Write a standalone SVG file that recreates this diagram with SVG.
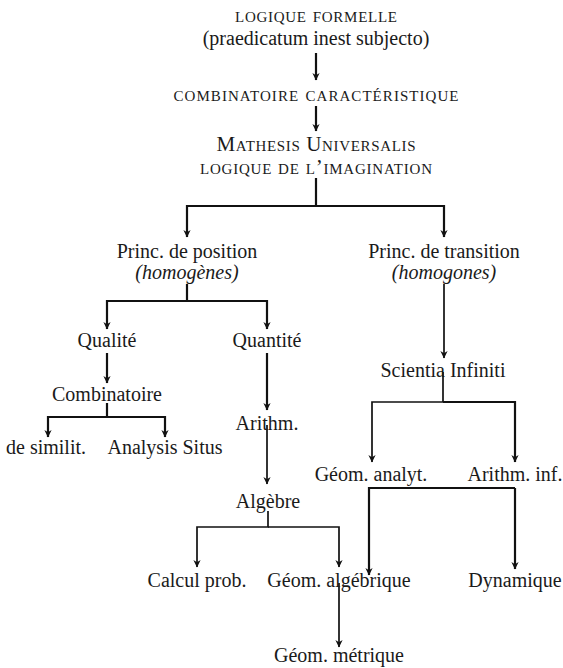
<svg xmlns="http://www.w3.org/2000/svg" width="563" height="668" viewBox="0 0 563 668">
<style>
text{font-family:"Liberation Serif","Times New Roman",serif;font-size:20px;fill:#1a1a1a;text-anchor:middle}
.sc{font-variant:small-caps;font-size:21px}
.it{font-style:italic}
.c{fill:none;stroke:#111;stroke-width:1.7}
.t{stroke-width:2.2}
</style>
<defs>
<marker id="ah" viewBox="-9 -5 10 10" refX="0" refY="0" markerWidth="10" markerHeight="10" markerUnits="userSpaceOnUse" orient="auto">
<path d="M0.5,0 L-7,-3.6 L-4.8,0 L-7,3.6 Z" fill="#111"/>
</marker>
</defs>
<rect width="563" height="668" fill="#fff"/>
<g id="connectors">
<path class="c t" d="M316,53 V80" marker-end="url(#ah)"/>
<path class="c t" d="M316,106 V131" marker-end="url(#ah)"/>
<path class="c t" d="M316,178 V206 H187 V237" marker-end="url(#ah)"/>
<path class="c t" d="M316,206 H444 V237" marker-end="url(#ah)"/>
<path class="c t" d="M187,284 V301 H107 V329" marker-end="url(#ah)"/>
<path class="c t" d="M187,301 H267 V329" marker-end="url(#ah)"/>
<path class="c t" d="M107,353 V383" marker-end="url(#ah)"/>
<path class="c t" d="M107,403 V417 H48 V437" marker-end="url(#ah)"/>
<path class="c t" d="M107,417 H165 V437" marker-end="url(#ah)"/>
<path class="c t" d="M267,353 V410" marker-end="url(#ah)"/>
<path class="c" d="M267,425 V484" marker-end="url(#ah)"/>
<path class="c" d="M268,511 V527 H197 V567" marker-end="url(#ah)"/>
<path class="c" d="M268,527 H339 V567" marker-end="url(#ah)"/>
<path class="c" d="M339,583 V647" marker-end="url(#ah)"/>
<path class="c" d="M444,284 V358" marker-end="url(#ah)"/>
<path class="c" d="M443,372 V402 H372 V462" marker-end="url(#ah)"/>
<path class="c t" d="M443,402 H515 V462" marker-end="url(#ah)"/>
<path class="c t" d="M515,488 V569" marker-end="url(#ah)"/>
<path class="c t" d="M515,488 H369 V575" marker-end="url(#ah)"/>
</g>
<g id="n-logique-formelle">
<text class="sc" x="316" y="22" textLength="162" lengthAdjust="spacing">logique formelle</text>
<text x="316" y="45">(praedicatum inest subjecto)</text>
</g>
<g id="n-combinatoire-caracteristique">
<text class="sc" x="316" y="101" textLength="285" lengthAdjust="spacing">combinatoire caractéristique</text>
</g>
<g id="n-mathesis">
<text class="sc" x="316" y="151" textLength="199" lengthAdjust="spacing">Mathesis Universalis</text>
<text class="sc" x="316" y="174" textLength="232" lengthAdjust="spacing">logique de l’imagination</text>
</g>
<g id="n-position">
<text x="187" y="258">Princ. de position</text>
<text class="it" x="187" y="279">(homogènes)</text>
</g>
<g id="n-transition">
<text x="444" y="258">Princ. de transition</text>
<text class="it" x="444" y="279">(homogones)</text>
</g>
<g id="n-qualite"><text x="107" y="347">Qualité</text></g>
<g id="n-quantite"><text x="267" y="347">Quantité</text></g>
<g id="n-combinatoire"><text x="107" y="401">Combinatoire</text></g>
<g id="n-similit"><text x="46" y="454">de similit.</text></g>
<g id="n-analysis-situs"><text x="165" y="454">Analysis Situs</text></g>
<g id="n-arithm"><text x="267" y="430">Arithm.</text></g>
<g id="n-algebre"><text x="268" y="508">Algèbre</text></g>
<g id="n-calcul-prob"><text x="197" y="587">Calcul prob.</text></g>
<g id="n-geom-algebrique"><text x="339" y="587">Géom. algébrique</text></g>
<g id="n-geom-metrique"><text x="339" y="662">Géom. métrique</text></g>
<g id="n-scientia-infiniti"><text x="443" y="377">Scientia Infiniti</text></g>
<g id="n-geom-analyt"><text x="371" y="481">Géom. analyt.</text></g>
<g id="n-arithm-inf"><text x="515" y="481">Arithm. inf.</text></g>
<g id="n-dynamique"><text x="515" y="587">Dynamique</text></g>
</svg>
